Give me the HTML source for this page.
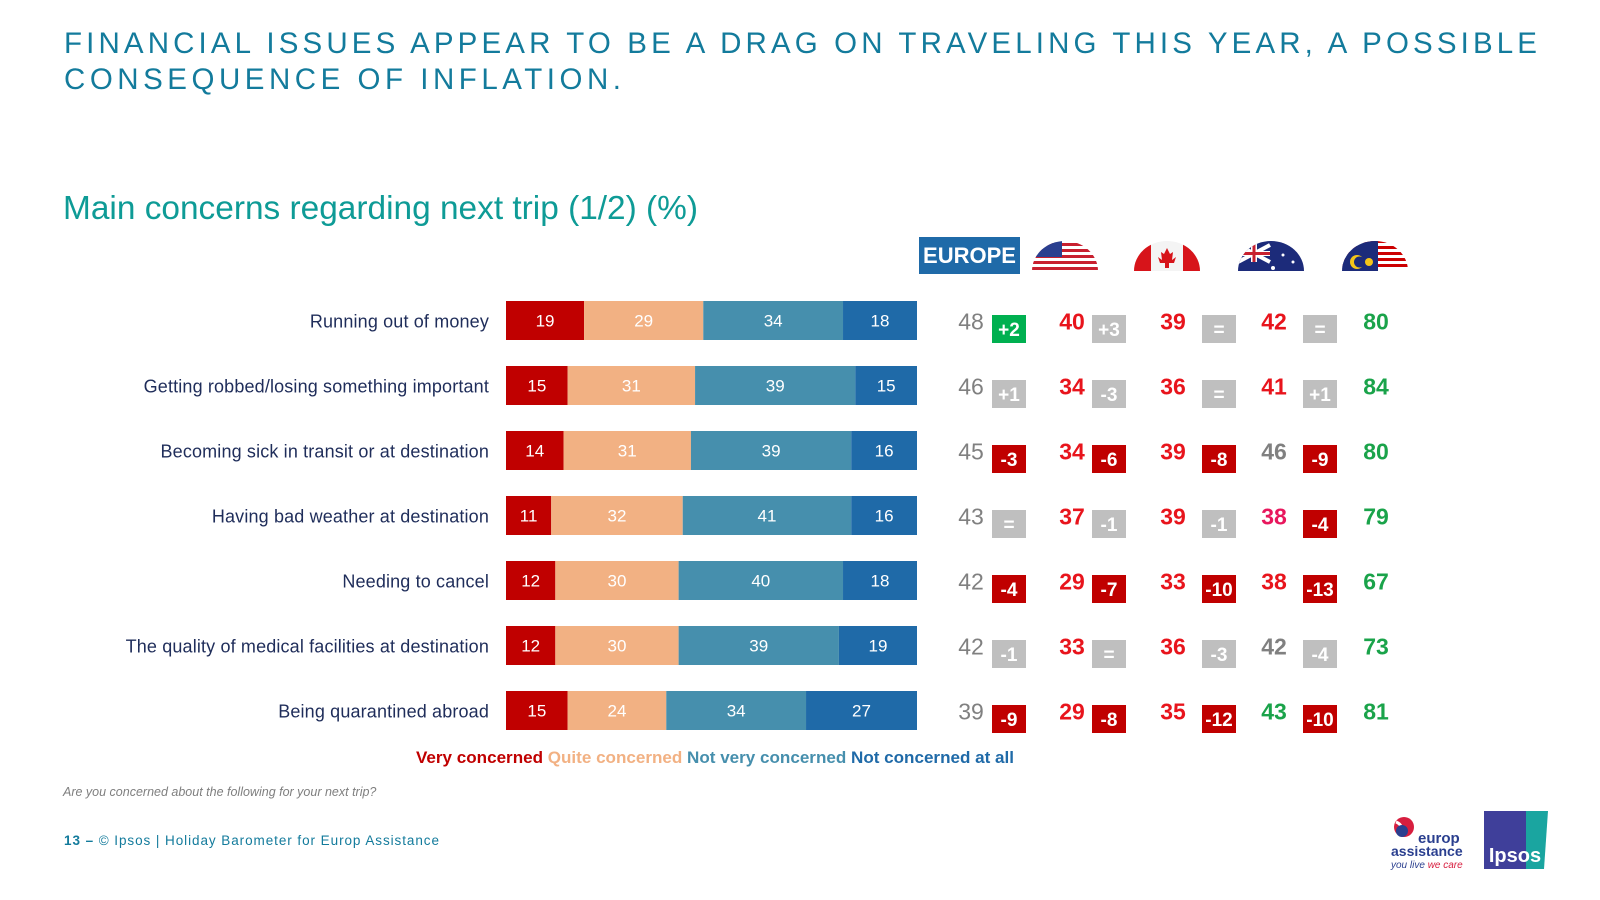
<!DOCTYPE html>
<html><head><meta charset="utf-8">
<style>
html,body{margin:0;padding:0;background:#fff;}
svg{display:block;font-family:"Liberation Sans",Arial,sans-serif;}
</style></head>
<body>
<svg id="chart" width="1600" height="900" viewBox="0 0 1600 900" xmlns="http://www.w3.org/2000/svg">
<text x="64" y="53" font-size="29.5" fill="#137b9c" textLength="1473" lengthAdjust="spacing">FINANCIAL ISSUES APPEAR TO BE A DRAG ON TRAVELING THIS YEAR, A POSSIBLE</text>
<text x="64" y="89" font-size="29.5" fill="#137b9c" textLength="557" lengthAdjust="spacing">CONSEQUENCE OF INFLATION.</text>
<text x="63" y="219" font-size="33" fill="#0e9b96" textLength="635" lengthAdjust="spacingAndGlyphs">Main concerns regarding next trip (1/2) (%)</text>

<g transform="translate(-12,0)">
<g>
<rect x="931" y="237" width="101" height="37" fill="#1f6aa8"/>
<text x="981.5" y="263" font-size="22" font-weight="bold" fill="#fff" text-anchor="middle">EUROPE</text>
</g>
<defs>
<clipPath id="cUS"><path d="M1044 271 A33 30 0 0 1 1110 271 Z"/></clipPath>
<clipPath id="cCA"><path d="M1146 271 A33 30 0 0 1 1212 271 Z"/></clipPath>
<clipPath id="cAU"><path d="M1250 271 A33 30 0 0 1 1316 271 Z"/></clipPath>
<clipPath id="cMY"><path d="M1354 271 A33 30 0 0 1 1420 271 Z"/></clipPath>
</defs>
<g clip-path="url(#cUS)">
<rect x="1044" y="240" width="66" height="31" fill="#fff"/>
<rect x="1044" y="243" width="66" height="3" fill="#c8202f"/><rect x="1044" y="249" width="66" height="3" fill="#c8202f"/><rect x="1044" y="255" width="66" height="3" fill="#c8202f"/><rect x="1044" y="261" width="66" height="3" fill="#c8202f"/><rect x="1044" y="267" width="66" height="3" fill="#c8202f"/>
<rect x="1044" y="240" width="30" height="17" fill="#2a3f8f"/>
</g>
<g clip-path="url(#cCA)">
<rect x="1146" y="240" width="66" height="31" fill="#f4f4f4"/>
<rect x="1146" y="240" width="17" height="31" fill="#d7141a"/><rect x="1195" y="240" width="17" height="31" fill="#d7141a"/>
<path d="M1179 248 l3 6 3-2 -1 8 4-3 -2 6 -5 0 0 5 -4 0 0-5 -5 0 -2-6 4 3 -1-8 3 2z" fill="#d7141a"/>
</g>
<g clip-path="url(#cAU)">
<rect x="1250" y="240" width="66" height="31" fill="#1c2b7a"/>
<path d="M1250 245 L1282 262 M1282 245 L1250 262" stroke="#fff" stroke-width="4"/>
<rect x="1250" y="251" width="32" height="5" fill="#fff"/><rect x="1263" y="240" width="6" height="22" fill="#fff"/>
<rect x="1250" y="252" width="32" height="3" fill="#c8202f"/><rect x="1264.5" y="240" width="3" height="22" fill="#c8202f"/>
<circle cx="1295" cy="255" r="1.5" fill="#fff"/><circle cx="1305" cy="262" r="1.5" fill="#fff"/><circle cx="1285" cy="268" r="2" fill="#fff"/>
</g>
<g clip-path="url(#cMY)">
<rect x="1354" y="240" width="66" height="31" fill="#fff"/>
<rect x="1354" y="240" width="66" height="3" fill="#cc0001"/><rect x="1354" y="246" width="66" height="3" fill="#cc0001"/><rect x="1354" y="252" width="66" height="3" fill="#cc0001"/><rect x="1354" y="258" width="66" height="3" fill="#cc0001"/><rect x="1354" y="264" width="66" height="3" fill="#cc0001"/>
<rect x="1354" y="240" width="36" height="31" fill="#1c2b7a"/>
<circle cx="1369" cy="262" r="7" fill="#f5c518"/><circle cx="1371.5" cy="262" r="5.5" fill="#1c2b7a"/>
<circle cx="1381" cy="262" r="4" fill="#f5c518"/>
</g>
<g id="cols"></g>
</g>

<g id="bars"></g>

<g font-size="17">
<text x="416" y="763" font-weight="bold" textLength="598" lengthAdjust="spacingAndGlyphs"><tspan fill="#c00000">Very concerned </tspan><tspan fill="#f2b183">Quite concerned </tspan><tspan fill="#468fad">Not very concerned </tspan><tspan fill="#1f6aa8">Not concerned at all</tspan></text>
</g>
<text x="63" y="796" font-size="12.5" font-style="italic" fill="#7f7f7f">Are you concerned about the following for your next trip?</text>
<text x="64" y="845" font-size="13.5" fill="#137b9c" textLength="375" lengthAdjust="spacing"><tspan font-weight="bold">13 – </tspan> © Ipsos | Holiday Barometer for Europ Assistance</text>

<g>
<circle cx="1404" cy="827" r="10" fill="#d71e3f"/><path d="M1396 822 q8 3 4 12" stroke="#fff" stroke-width="3" fill="none"/><circle cx="1402" cy="831" r="6" fill="#2a3f8f"/>
<text x="1418" y="843" font-size="15" font-weight="bold" fill="#2a3f8f">europ</text>
<text x="1391" y="856" font-size="14" font-weight="bold" fill="#2a3f8f">assistance</text>
<text x="1391" y="868" font-size="10" font-style="italic" fill="#2a3f8f">you live <tspan fill="#d71e3f">we care</tspan></text>
</g>
<g>
<rect x="1484" y="811" width="42" height="58" fill="#3f3f9a"/>
<path d="M1526 811 L1548 811 L1544 869 L1526 869 Z" fill="#1aa5a0"/>
<text x="1515" y="862" font-size="20" font-weight="bold" fill="#fff" text-anchor="middle">Ipsos</text>
</g>
</svg>
<script>
const categories = ["Running out of money","Getting robbed/losing something important","Becoming sick in transit or at destination","Having bad weather at destination","Needing to cancel","The quality of medical facilities at destination","Being quarantined abroad"];
const veryConcerned = [19,15,14,11,12,12,15];
const quiteConcerned = [29,31,31,32,30,30,24];
const notVeryConcerned = [34,39,39,41,40,39,34];
const notConcernedAtAll = [18,15,16,16,18,19,27];
const europeValues = [48,46,45,43,42,42,39];
const europeDeltas = ["+2","+1","-3","=","-4","-1","-9"];
const usValues = [40,34,34,37,29,33,29];
const usDeltas = ["+3","-3","-6","-1","-7","=","-8"];
const caValues = [39,36,39,39,33,36,35];
const caDeltas = ["=","=","-8","-1","-10","-3","-12"];
const auValues = [42,41,46,38,38,42,43];
const auDeltas = ["=","+1","-9","-4","-13","-4","-10"];
const myValues = [80,84,80,79,67,73,81];
const europeValueTone = ["g","g","g","g","g","g","g"];
const europeDeltaTone = ["n","g","r","g","r","g","r"];
const usValueTone = ["r","r","r","r","r","r","r"];
const usDeltaTone = ["g","g","r","g","r","g","r"];
const caValueTone = ["r","r","r","r","r","r","r"];
const caDeltaTone = ["g","g","r","g","r","g","r"];
const auValueTone = ["r","r","g","p","r","g","n"];
const auDeltaTone = ["g","g","r","r","r","g","r"];
const myValueTone = ["n","n","n","n","n","n","n"];

const NS="http://www.w3.org/2000/svg";
const x0=506, barW=411, y0=301, pitch=65, barH=39;
const xs=v=>v/100*barW;
const yRow=i=>y0+i*pitch;
function mk(tag,attrs,parent){const e=document.createElementNS(NS,tag);for(const k in attrs)e.setAttribute(k,attrs[k]);parent.appendChild(e);return e;}
const barsG=document.getElementById('bars');
const series=[veryConcerned,quiteConcerned,notVeryConcerned,notConcernedAtAll];
const segColors=["#c00000","#f2b183","#468fad","#1f6aa8"];
const segNames=["very-concerned","quite-concerned","not-very-concerned","not-concerned-at-all"];
categories.forEach((c,i)=>{
  const y=yRow(i);
  const lab=mk('text',{x:489,y:y+barH/2+7,'font-size':18,fill:'#1f2d5a','text-anchor':'end','letter-spacing':'0.15'},barsG);
  
  
  lab.textContent=c;
  let acc=0;
  series.forEach((s,k)=>{
    const v=s[i];
    const r=mk('rect',{x:x0+xs(acc),y:y,width:xs(v),height:barH,fill:segColors[k]},barsG);
    
    
    const t=mk('text',{x:x0+xs(acc+v/2),y:y+barH/2+6,'font-size':17,fill:'#fff','text-anchor':'middle'},barsG);
    
    
    t.textContent=v;
    acc+=v;
  });
});
const valColor={g:"#808080",r:"#e8141c",p:"#e8175d",n:"#1aa34a"};
const boxColor={g:"#bfbfbf",r:"#c00000",n:"#00b050"};
const colsG=document.getElementById('cols');
const cols=[
 {vx:983,bx:1004,vals:europeValues,vt:europeValueTone,d:europeDeltas,dt:europeDeltaTone,name:'europe'},
 {vx:1084,bx:1104,vals:usValues,vt:usValueTone,d:usDeltas,dt:usDeltaTone,name:'usa'},
 {vx:1185,bx:1214,vals:caValues,vt:caValueTone,d:caDeltas,dt:caDeltaTone,name:'canada'},
 {vx:1286,bx:1315,vals:auValues,vt:auValueTone,d:auDeltas,dt:auDeltaTone,name:'australia'},
 {vx:1388,bx:null,vals:myValues,vt:myValueTone,d:null,dt:null,name:'malaysia'}];
cols.forEach(col=>{
  col.vals.forEach((v,i)=>{
    const y=yRow(i);
    const t=mk('text',{x:col.vx,y:y+barH/2+9,'font-size':23,'font-weight':col.name==='europe'?'normal':'bold',fill:valColor[col.vt[i]],'text-anchor':'middle'},colsG);
    
    
    t.textContent=v;
    if(col.d){
      const r=mk('rect',{x:col.bx,y:y+14,width:34,height:28,fill:boxColor[col.dt[i]]},colsG);
      
      
      const d=mk('text',{x:col.bx+17,y:y+35,'font-size':19,'font-weight':'bold',fill:'#fff','text-anchor':'middle'},colsG);
      
      
      d.textContent=col.d[i];
    }
  });
});
</script>
</body></html>
